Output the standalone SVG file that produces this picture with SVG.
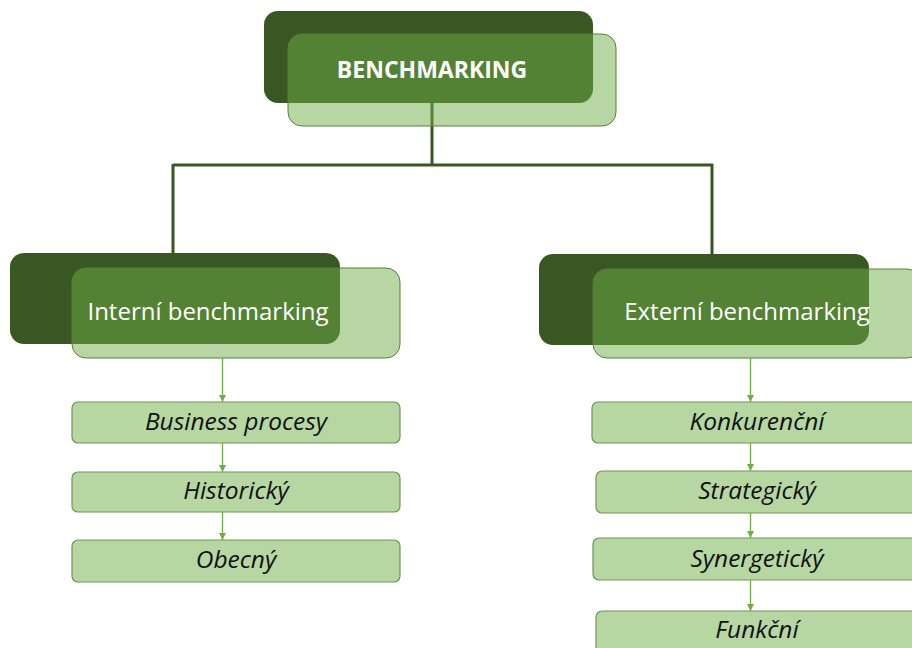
<svg xmlns="http://www.w3.org/2000/svg" width="912" height="648" viewBox="0 0 912 648">
<style>
.dark{fill:#385723;}
.light{fill:#70AD47;fill-opacity:0.5;stroke:#548235;stroke-width:1;}
.box{fill:#B6D6A2;stroke:#6E9556;stroke-width:1.2;}
.main{font-family:"Open Sans",Lato,sans-serif;fill:#FFFFFF;text-anchor:middle;}
.sub{font-family:"Open Sans",Lato,sans-serif;font-style:italic;font-size:24.5px;fill:#111111;text-anchor:middle;}
.tree{stroke:#385723;stroke-width:3;fill:none;}
.arr{stroke:#70AD47;stroke-width:1.3;fill:none;marker-end:url(#ah);}
</style>
<defs>
<marker id="ah" viewBox="0 0 10 10" refX="10" refY="5" markerWidth="7" markerHeight="7" markerUnits="userSpaceOnUse" orient="auto">
<path d="M0,0 L10,5 L0,10 z" fill="#70AD47"/>
</marker>
</defs>
<rect width="912" height="648" fill="#FFFFFF"/>
<g id="connectors">
<path class="tree" d="M432,103 V165 M173,165 H713 M173,164 V253 M712,164 V254"/>
<path class="arr" d="M222.5,358 V402"/>
<path class="arr" d="M222.5,443 V472"/>
<path class="arr" d="M222.5,512 V540"/>
<path class="arr" d="M750.5,358 V402"/>
<path class="arr" d="M750.5,443 V471"/>
<path class="arr" d="M750.5,513 V538"/>
<path class="arr" d="M750.5,580 V611"/>
</g>
<g id="benchmarking">
<rect class="dark" x="264" y="11" width="329" height="92" rx="14"/>
<rect class="light" x="288" y="34" width="328" height="92" rx="14"/>
<text class="main" x="432" y="78" font-size="23" font-weight="bold">BENCHMARKING</text>
</g>
<g id="interni">
<rect class="dark" x="10" y="253" width="330" height="91" rx="14"/>
<rect class="light" x="72" y="268" width="328" height="90" rx="14"/>
<text class="main" x="208" y="320" font-size="24">Interní benchmarking</text>
</g>
<g id="externi">
<rect class="dark" x="539" y="254" width="330" height="91" rx="14"/>
<rect class="light" x="593" y="269" width="328" height="89" rx="14"/>
<text class="main" x="747" y="320" font-size="24">Externí benchmarking</text>
</g>
<g id="business">
<rect class="box" x="72" y="402" width="328" height="41" rx="6"/>
<text class="sub" x="236" y="430">Business procesy</text>
</g>
<g id="historicky">
<rect class="box" x="72" y="472" width="328" height="40" rx="6"/>
<text class="sub" x="236" y="499">Historický</text>
</g>
<g id="obecny">
<rect class="box" x="72" y="540" width="328" height="42" rx="6"/>
<text class="sub" x="236" y="568">Obecný</text>
</g>
<g id="konkurencni">
<rect class="box" x="592" y="402" width="330" height="41" rx="6"/>
<text class="sub" x="757" y="430">Konkurenční</text>
</g>
<g id="strategicky">
<rect class="box" x="596" y="471" width="326" height="42" rx="6"/>
<text class="sub" x="757" y="499">Strategický</text>
</g>
<g id="synergeticky">
<rect class="box" x="593" y="538" width="329" height="42" rx="6"/>
<text class="sub" x="757" y="567">Synergetický</text>
</g>
<g id="funkcni">
<rect class="box" x="596" y="611" width="326" height="45" rx="6"/>
<text class="sub" x="757" y="638">Funkční</text>
</g>
</svg>
